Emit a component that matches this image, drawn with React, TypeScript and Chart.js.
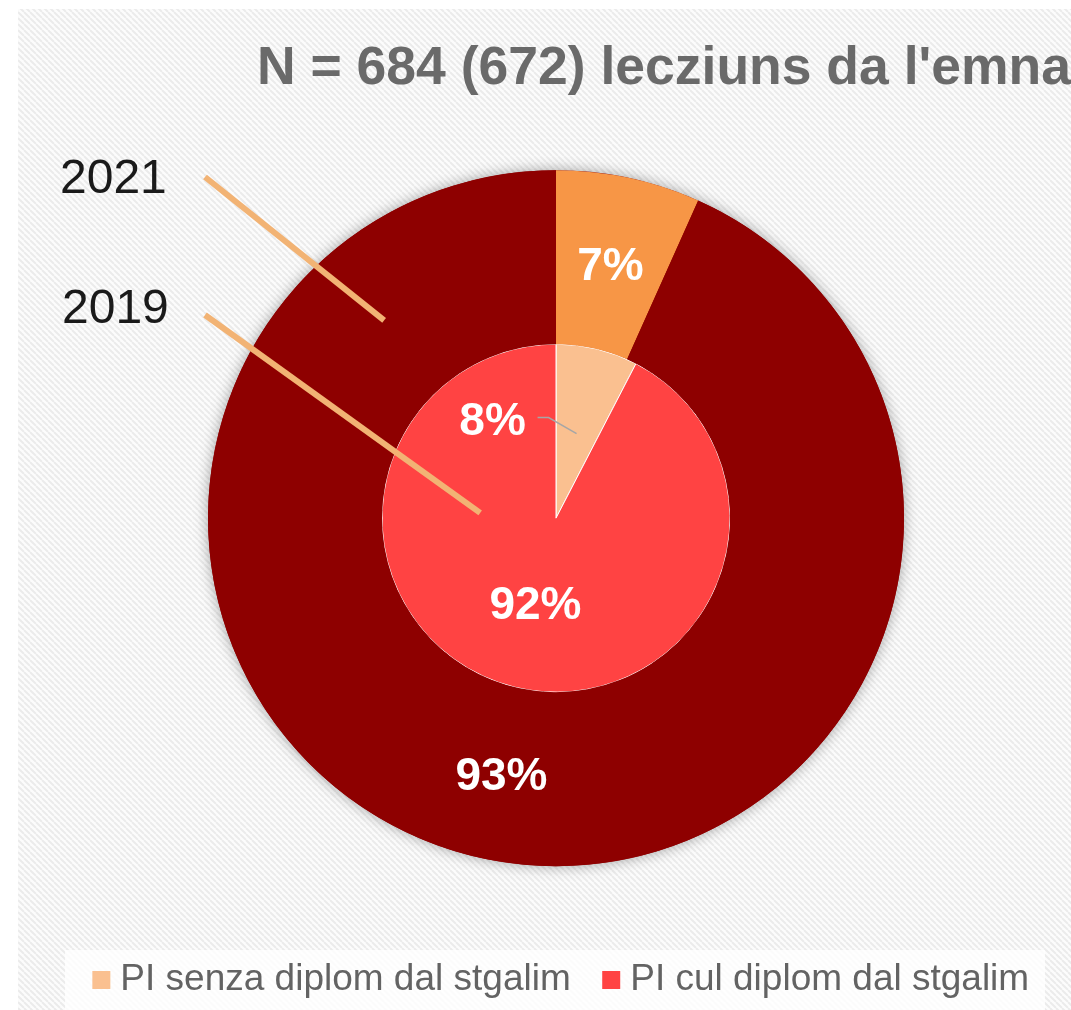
import React, { useEffect, useRef } from 'react';
import { Chart, registerables } from 'chart.js';

Chart.register(...registerables);

// ---------- data ----------
const titleText = "N = 684 (672) lecziuns da l'emna";
const categories = ['PI senza diplom dal stgalim', 'PI cul diplom dal stgalim'];
const seriesNames = ['2021', '2019'];
const values2021 = [6.7, 93.3];
const values2019 = [7.6, 92.4];

// ---------- styles ----------
const FONT = "'Liberation Sans', Arial, sans-serif";
const colors2021 = ['#F79646', '#8E0000'];
const colors2019 = ['#FAC090', '#FF4343'];
const W = 1071;
const H = 1010;

export default function App() {
  const ref = useRef<HTMLCanvasElement>(null);

  useEffect(() => {
    const canvas = ref.current!;
    const ctx = canvas.getContext('2d')!;

    // hatch pattern for the chart background
    const tile = document.createElement('canvas');
    tile.width = 6;
    tile.height = 6;
    const t = tile.getContext('2d')!;
    t.fillStyle = '#FCFCFC';
    t.fillRect(0, 0, 6, 6);
    t.strokeStyle = '#EBEBEB';
    t.lineWidth = 2;
    t.beginPath();
    for (const o of [-6, 0, 6]) {
      t.moveTo(o, 0);
      t.lineTo(o + 6, 6);
    }
    t.stroke();
    const pattern = ctx.createPattern(tile, 'repeat');

    const backgroundPlugin = {
      id: 'bg',
      beforeDraw(chart: any) {
        const c = chart.ctx;
        c.save();
        c.fillStyle = '#FFFFFF';
        c.fillRect(0, 0, W, H);
        c.fillStyle = pattern as any;
        c.fillRect(18, 9, W - 18, H - 9);
        c.fillStyle = 'rgba(255,255,255,0.8)';
        c.fillRect(65, 950, 980, H - 950);
        c.restore();
      },
    };

    const shadowPlugin = {
      id: 'ringShadow',
      beforeDatasetsDraw(chart: any) {
        const arc = chart.getDatasetMeta(0).data[0];
        if (!arc) return;
        const c = chart.ctx;
        c.save();
        c.shadowColor = 'rgba(0,0,0,0.35)';
        c.shadowBlur = 14;
        c.fillStyle = colors2021[1];
        c.beginPath();
        c.arc(arc.x, arc.y, arc.outerRadius, 0, Math.PI * 2);
        c.fill();
        c.restore();
      },
    };

    const labelPlugin = {
      id: 'sliceLabels',
      afterDatasetsDraw(chart: any) {
        const c = chart.ctx;
        c.save();
        c.font = 'bold 46px ' + FONT;
        c.fillStyle = '#FFFFFF';
        c.textAlign = 'center';
        c.textBaseline = 'middle';
        chart.data.datasets.forEach((ds: any, di: number) => {
          const meta = chart.getDatasetMeta(di);
          meta.data.forEach((arc: any, i: number) => {
            const text = Math.round(ds.data[i]) + '%';
            const p = arc.getCenterPoint();
            if (di === 1 && i === 0) {
              c.strokeStyle = '#A6A6A6';
              c.lineWidth = 1.5;
              c.beginPath();
              c.moveTo(p.x, p.y);
              c.lineTo(p.x - 28, p.y - 16);
              c.lineTo(p.x - 39, p.y - 16);
              c.stroke();
              c.fillText(text, p.x - 84, p.y - 11);
            } else {
              c.fillText(text, p.x, p.y + 4);
            }
          });
        });
        c.restore();
      },
    };

    // series name callouts ("2021", "2019")
    const seriesCallouts = [
      { textX: 60, textY: 193, lineX: 205, lineY: 177, angle: -41, r: 262 },
      { textX: 62, textY: 323, lineX: 205, lineY: 315, angle: -86, r: 76 },
    ];
    const seriesPlugin = {
      id: 'seriesNames',
      afterDatasetsDraw(chart: any) {
        const arc = chart.getDatasetMeta(0).data[0];
        if (!arc) return;
        const c = chart.ctx;
        c.save();
        seriesNames.forEach((name, i) => {
          const s = seriesCallouts[i];
          const a = (s.angle * Math.PI) / 180;
          const ex = arc.x + Math.sin(a) * s.r;
          const ey = arc.y - Math.cos(a) * s.r;
          c.strokeStyle = '#F2B374';
          c.lineWidth = 6;
          c.beginPath();
          c.moveTo(s.lineX, s.lineY);
          c.lineTo(ex, ey);
          c.stroke();
          c.fillStyle = '#1A1A1A';
          c.font = '48px ' + FONT;
          c.textAlign = 'left';
          c.textBaseline = 'alphabetic';
          c.fillText(name, s.textX, s.textY);
        });
        c.restore();
      },
    };

    const legendShift = {
      id: 'legendShift',
      afterLayout(chart: any) {
        if (chart.legend) {
          chart.legend.left += 9;
          chart.legend.right += 9;
        }
      },
    };

    Chart.defaults.font.family = FONT;

    const chart = new Chart(canvas, {
      type: 'doughnut',
      data: {
        labels: categories,
        datasets: [
          {
            label: seriesNames[0],
            data: values2021,
            backgroundColor: colors2021,
            borderWidth: 0,
            clip: false as any,
          },
          {
            label: seriesNames[1],
            data: values2019,
            backgroundColor: colors2019,
            borderColor: '#FFFFFF',
            borderWidth: 1,
            clip: false as any,
          },
        ],
      },
      options: {
        responsive: false,
        animation: false,
        devicePixelRatio: 1,
        events: [],
        cutout: 0,
        radius: 348,
        hoverOffset: 0,
        layout: { padding: { left: 41, right: 0, top: 10, bottom: 1.5 } },
        plugins: {
          tooltip: { enabled: false },
          title: {
            display: true,
            text: titleText,
            align: 'end',
            color: '#6A6A6A',
            font: { size: 53.5, weight: 'bold', family: FONT },
            padding: { top: 27, bottom: 13.6 },
          },
          legend: {
            display: true,
            position: 'bottom',
            labels: {
              usePointStyle: true,
              pointStyle: 'rect',
              boxWidth: 1,
              boxHeight: 18,
              padding: 40,
              color: '#636363',
              font: { size: 37, family: FONT },
              generateLabels: () =>
                categories.map((c, i) => ({
                  text: c,
                  fillStyle: colors2019[i],
                  strokeStyle: colors2019[i],
                  lineWidth: 0,
                  hidden: false,
                  index: i,
                  pointStyle: 'rect',
                  fontColor: '#636363',
                })),
            },
          },
        },
      } as any,
      plugins: [backgroundPlugin, shadowPlugin, labelPlugin, seriesPlugin, legendShift],
    });

    return () => chart.destroy();
  }, []);

  return (
    <div style={{ position: 'absolute', left: 0, top: 0, width: W, height: H }}>
      <canvas ref={ref} width={W} height={H} style={{ display: 'block' }} />
    </div>
  );
}
